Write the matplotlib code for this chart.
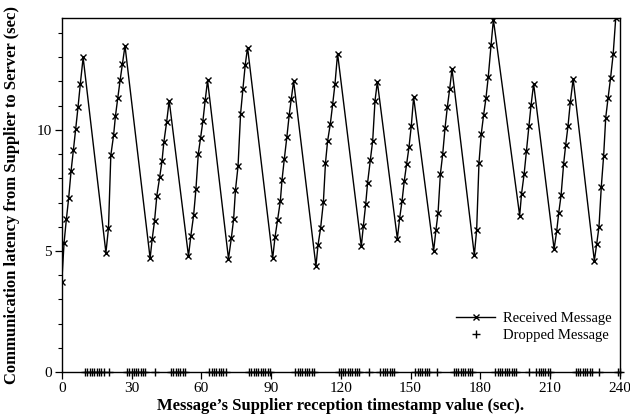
import matplotlib
matplotlib.use("Agg")
import matplotlib.pyplot as plt
from matplotlib.ticker import MultipleLocator

plt.rcParams['font.family'] = ['Liberation Serif', 'DejaVu Serif']

# received messages: reception timestamp (sec) and latency (sec)
recv_t = [0.0, 1.0, 2.0, 3.0, 4.0, 5.0, 6.0, 7.0, 8.0, 9.2,
          19.0, 20.1, 21.1, 22.3, 23.1, 24.1, 25.1, 26.1, 27.2,
          38.0, 38.9, 39.9, 40.9, 42.1, 43.1, 43.9, 45.1, 46.2,
          54.5, 55.5, 56.7, 57.7, 58.7, 59.7, 60.7, 61.7, 62.7,
          71.7, 72.9, 73.9, 74.7, 75.8, 76.9, 77.9, 78.9, 79.9,
          90.7, 91.7, 92.8, 94.0, 94.7, 95.7, 96.8, 97.8, 98.7, 99.7,
          109.3, 110.2, 111.3, 112.5, 113.4, 114.3, 115.5, 116.5, 117.5, 118.6,
          128.8, 129.7, 130.7, 131.5, 132.7, 133.7, 134.7, 135.7,
          144.3, 145.3, 146.3, 147.3, 148.3, 149.3, 150.3, 151.3,
          159.9, 160.9, 161.8, 162.8, 163.8, 164.8, 165.8, 166.8, 167.8,
          177.4, 178.4, 179.4, 180.4, 181.4, 182.4, 183.4, 184.6, 185.6,
          196.9, 197.7, 198.8, 199.8, 200.9, 201.8, 202.9,
          211.7, 212.8, 213.7, 214.7, 215.8, 216.7, 217.7, 218.7, 219.9,
          229.0, 230.0, 231.0, 232.0, 233.0, 233.9, 234.9, 236.0, 237.1, 238.2]
recv_lat = [3.70, 5.34, 6.32, 7.20, 8.29, 9.16, 10.04, 10.94, 11.91, 12.99,
            4.93, 5.95, 8.95, 9.78, 10.58, 11.32, 12.05, 12.73, 13.47,
            4.70, 5.50, 6.24, 7.29, 8.04, 8.70, 9.49, 10.32, 11.21,
            4.79, 5.62, 6.47, 7.55, 9.00, 9.67, 10.37, 11.24, 12.04,
            4.68, 5.52, 6.31, 7.52, 8.50, 10.67, 11.69, 12.69, 13.40,
            4.70, 5.57, 6.28, 7.07, 7.92, 8.80, 9.71, 10.61, 11.28, 12.02,
            4.38, 5.25, 5.94, 7.02, 8.64, 9.53, 10.26, 11.07, 11.91, 13.15,
            5.19, 6.05, 6.94, 7.81, 8.77, 9.55, 11.21, 11.98,
            5.51, 6.36, 7.05, 7.91, 8.60, 9.28, 10.17, 11.35,
            5.01, 5.87, 6.57, 8.17, 9.00, 10.07, 10.95, 11.69, 12.51,
            4.83, 5.87, 8.64, 9.85, 10.62, 11.31, 12.20, 13.51, 14.55,
            6.46, 7.36, 8.17, 9.12, 10.18, 11.03, 11.90,
            5.08, 5.81, 6.58, 7.30, 8.60, 9.39, 10.18, 11.17, 12.10,
            4.60, 5.28, 6.00, 7.66, 8.93, 10.51, 11.31, 12.16, 13.13, 14.62]

# dropped messages: timestamps only, drawn at latency 0
drop_t = [10, 11, 12, 13, 14, 15, 16, 17, 18, 20.5,
          28, 29, 30, 31, 32, 33, 34, 35, 36, 40.2,
          47, 48, 49, 50, 51, 52, 53,
          63.5, 64.5, 65.5, 66.5, 67.5, 68.5, 69.5, 70.5,
          80.5, 81.5, 82.5, 83.5, 84.5, 85.5, 86.5, 87.5, 88.5, 89.5,
          100.5, 101.5, 102.5, 103.5, 104.5, 105.5, 106.5, 107.5, 108.5,
          119, 120, 121, 122, 123, 124, 125, 126, 127, 128, 132.3,
          137, 138, 139, 140, 141, 142, 143,
          152, 153, 154, 155, 156, 157, 158, 161.5,
          168.5, 169.5, 170.5, 171.5, 172.5, 173.5, 174.5, 175.5, 176.5,
          186.5, 187.5, 188.5, 189.5, 190.5, 191.5, 192.5, 193.5, 194.5, 195.5, 200.9,
          204, 205, 206, 207, 208, 209, 210,
          221, 222, 223, 224, 225, 226, 227, 228, 230.9,
          239, 240]
drop_lat = [0] * len(drop_t)

fig = plt.figure(figsize=(6.3, 4.19), dpi=100)
ax = fig.add_axes([0.098, 0.112, 0.886, 0.845])

ax.plot(recv_t, recv_lat, color='black', lw=1.0, marker='x', ms=5,
        mew=1.0, label='Received Message')
ax.plot(drop_t, drop_lat, ls='none', color='black', marker='+', ms=5.5,
        mew=1.0, label='Dropped Message', clip_on=False)

ax.set_xlim(0, 240)
ax.set_ylim(0, 14.62)
ax.xaxis.set_major_locator(MultipleLocator(30))
ax.yaxis.set_major_locator(MultipleLocator(5))
ax.yaxis.set_minor_locator(MultipleLocator(1))
ax.tick_params(axis='both', which='major', labelsize=11, length=5, width=0.9,
               direction='out', pad=2)
ax.tick_params(axis='y', which='minor', length=3, width=0.8, direction='out')
for s in ax.spines.values():
    s.set_linewidth(1.0)

ax.set_xlabel('Message\u2019s Supplier reception timestamp value (sec).',
              fontsize=12, fontweight='bold', labelpad=2)
ax.set_ylabel('Communication latency from Supplier to Server (sec)',
              fontsize=12, fontweight='bold', labelpad=12)

ax.legend(loc='lower right', bbox_to_anchor=(1.0, 0.06), frameon=False,
          fontsize=10.5, handlelength=2.7, handletextpad=0.5,
          labelspacing=0.25, borderaxespad=0.2)

fig.savefig('out.png', dpi=100)
